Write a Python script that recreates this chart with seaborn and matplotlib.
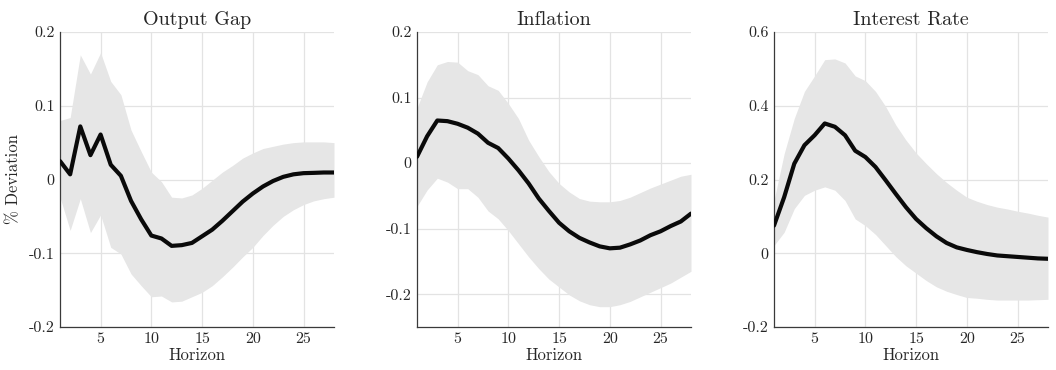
import numpy as np
import pandas as pd
import matplotlib
matplotlib.use("Agg")
import matplotlib.pyplot as plt
import seaborn as sns

horizon = list(range(1, 29))

gap_mid = [0.025, 0.007, 0.072, 0.033, 0.061, 0.020, 0.005, -0.029, -0.054, -0.076,
           -0.080, -0.090, -0.089, -0.086, -0.077, -0.068, -0.056, -0.043, -0.030, -0.019,
           -0.0095, -0.002, 0.0036, 0.007, 0.0086, 0.009, 0.0095, 0.0095]
gap_hi = [0.080, 0.084, 0.169, 0.143, 0.172, 0.133, 0.115, 0.067, 0.038, 0.010,
          -0.003, -0.024, -0.025, -0.021, -0.012, -0.001, 0.010, 0.019, 0.029, 0.036,
          0.042, 0.045, 0.048, 0.050, 0.051, 0.051, 0.051, 0.050]
gap_lo = [-0.024, -0.069, -0.026, -0.072, -0.048, -0.092, -0.101, -0.128, -0.144, -0.159,
          -0.158, -0.166, -0.165, -0.159, -0.153, -0.144, -0.132, -0.119, -0.105, -0.092,
          -0.076, -0.062, -0.050, -0.041, -0.034, -0.029, -0.026, -0.024]

inf_mid = [0.0097, 0.041, 0.065, 0.064, 0.060, 0.054, 0.045, 0.031, 0.023, 0.007,
           -0.011, -0.031, -0.054, -0.073, -0.091, -0.104, -0.114, -0.121, -0.127, -0.130,
           -0.129, -0.124, -0.118, -0.110, -0.104, -0.096, -0.089, -0.077]
inf_hi = [0.084, 0.124, 0.150, 0.155, 0.154, 0.141, 0.135, 0.118, 0.111, 0.091,
          0.068, 0.035, 0.010, -0.013, -0.031, -0.044, -0.054, -0.058, -0.059, -0.059,
          -0.057, -0.052, -0.045, -0.038, -0.032, -0.026, -0.020, -0.017]
inf_lo = [-0.066, -0.041, -0.023, -0.029, -0.039, -0.039, -0.052, -0.073, -0.085, -0.103,
          -0.123, -0.143, -0.161, -0.177, -0.189, -0.201, -0.210, -0.216, -0.219, -0.219,
          -0.216, -0.211, -0.204, -0.197, -0.190, -0.183, -0.174, -0.165]

rate_mid = [0.075, 0.152, 0.243, 0.293, 0.320, 0.352, 0.343, 0.320, 0.278, 0.261,
            0.234, 0.198, 0.161, 0.125, 0.093, 0.068, 0.046, 0.028, 0.016, 0.009,
            0.003, -0.002, -0.006, -0.008, -0.010, -0.012, -0.014, -0.015]
rate_hi = [0.143, 0.270, 0.366, 0.439, 0.481, 0.525, 0.527, 0.516, 0.481, 0.468,
           0.439, 0.398, 0.348, 0.307, 0.272, 0.243, 0.216, 0.192, 0.171, 0.152,
           0.141, 0.132, 0.125, 0.120, 0.114, 0.109, 0.103, 0.098]
rate_lo = [0.021, 0.057, 0.121, 0.157, 0.171, 0.180, 0.171, 0.143, 0.093, 0.075,
           0.051, 0.021, -0.009, -0.034, -0.054, -0.074, -0.091, -0.103, -0.112, -0.120,
           -0.122, -0.125, -0.127, -0.127, -0.127, -0.127, -0.126, -0.125]

titles = ["Output Gap", "Inflation", "Interest Rate"]
x_ticks = [5, 10, 15, 20, 25]
y_ticks = [[-0.2, -0.1, 0, 0.1, 0.2], [-0.2, -0.1, 0, 0.1, 0.2], [-0.2, 0, 0.2, 0.4, 0.6]]
y_ticklabels = [["-0.2", "-0.1", "0", "0.1", "0.2"], ["-0.2", "-0.1", "0", "0.1", "0.2"],
                ["-0.2", "0", "0.2", "0.4", "0.6"]]
y_lims = [(-0.2, 0.2), (-0.25, 0.2), (-0.2, 0.6)]

sns.set_style("whitegrid")
plt.rcParams["font.family"] = ["cmr10", "DejaVu Serif"]
plt.rcParams["axes.unicode_minus"] = False
plt.rcParams["mathtext.fontset"] = "cm"

fig = plt.figure(figsize=(10.56, 3.70), dpi=100)
lefts = [60 / 1056, 417 / 1056, 774 / 1056]
w = 274 / 1056
b = 1 - 327 / 370
h = 295 / 370

series = [(gap_mid, gap_lo, gap_hi), (inf_mid, inf_lo, inf_hi), (rate_mid, rate_lo, rate_hi)]

for i, (mid, lo, hi) in enumerate(series):
    ax = fig.add_axes([lefts[i], b, w, h])
    df = pd.DataFrame({"Horizon": horizon, "mid": mid, "lo": lo, "hi": hi})
    ax.fill_between(df["Horizon"], df["lo"], df["hi"], color="#e6e6e6", linewidth=0, zorder=1)
    sns.lineplot(data=df, x="Horizon", y="mid", ax=ax, color="#0a0a0a", linewidth=3.0, zorder=3)
    ax.set_xlim(1, 28)
    ax.set_ylim(*y_lims[i])
    ax.set_xticks(x_ticks)
    ax.set_xticklabels([str(t) for t in x_ticks])
    ax.set_yticks(y_ticks[i])
    ax.set_yticklabels(y_ticklabels[i])
    ax.grid(True, color="#e3e3e3", linewidth=0.9, zorder=0)
    ax.set_axisbelow(True)
    for s in ["top", "right"]:
        ax.spines[s].set_visible(False)
    for s in ["left", "bottom"]:
        ax.spines[s].set_visible(True)
        ax.spines[s].set_color("#3a3a3a")
        ax.spines[s].set_linewidth(0.9)
    ax.tick_params(axis="both", direction="in", length=2.5, width=0.7, color="#3a3a3a",
                   labelsize=11.5, labelcolor="#262626", pad=4)
    ax.set_title(titles[i], fontsize=14.5, pad=5)
    ax.set_xlabel("Horizon", fontsize=12, labelpad=1)
    if i == 0:
        ax.set_ylabel("% Deviation", fontsize=12, labelpad=5)
    else:
        ax.set_ylabel("")

fig.savefig("out.png", dpi=100, facecolor="white")
